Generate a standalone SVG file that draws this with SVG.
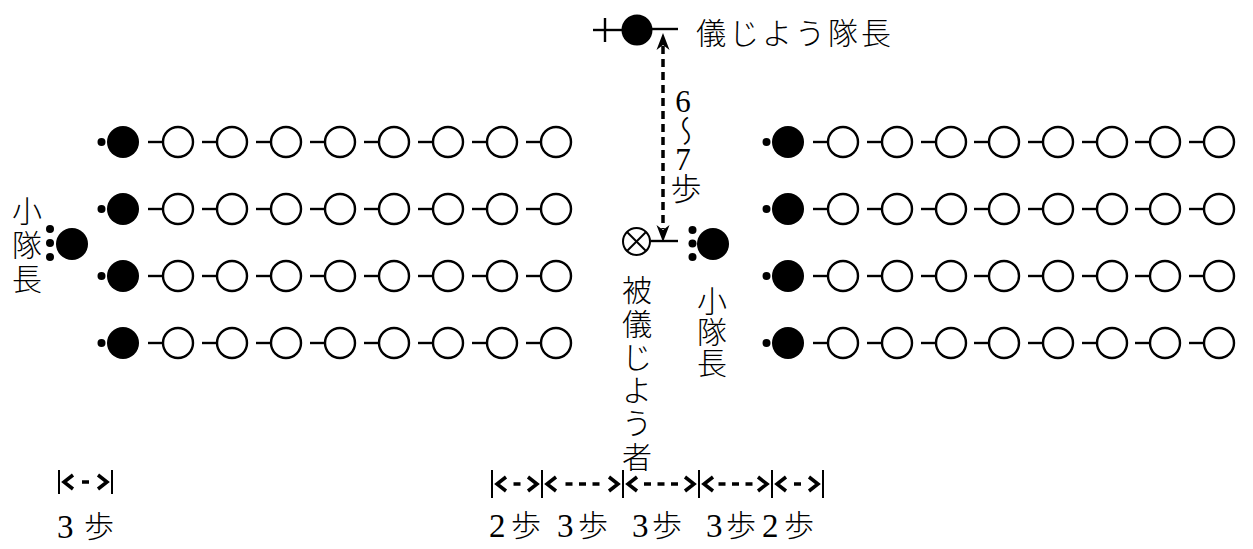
<svg xmlns="http://www.w3.org/2000/svg" width="1253" height="549" viewBox="0 0 1253 549">
<style>
.bg{fill:#fff}
.f{fill:#000}
.o{fill:#fff;stroke:#000;stroke-width:2.4}
.ln{stroke:#000;stroke-width:2.4;fill:none}
.tk{stroke:#000;stroke-width:2;fill:none}
.dim{stroke:#000;stroke-width:3.5;fill:none}
.chev{stroke:#000;stroke-width:3.5;fill:none;stroke-linejoin:miter}
.jp{font-family:"Noto Sans CJK JP","Noto Sans CJK SC",sans-serif;font-size:30px;font-weight:300;fill:#000}
.num{font-family:"Liberation Serif","DejaVu Serif",serif;font-size:33px;fill:#000}
.vt{font-family:"Liberation Serif","Noto Sans CJK JP",serif;font-size:31px;font-weight:300;fill:#000;writing-mode:vertical-rl;text-orientation:upright;letter-spacing:-4px}
</style>
<defs>
<g id="open"><circle class="o" cx="0" cy="0" r="15"/><line class="ln" x1="-30" y1="0" x2="-15" y2="0"/></g>
<g id="lead"><circle class="f" cx="-21.5" cy="0" r="4"/><circle class="f" cx="0" cy="0" r="16"/></g>
<g id="rowL">
<use href="#lead" x="123"/>
<use href="#open" x="178"/><use href="#open" x="232"/><use href="#open" x="286"/><use href="#open" x="340"/>
<use href="#open" x="394"/><use href="#open" x="448"/><use href="#open" x="502"/><use href="#open" x="556"/>
</g>
<g id="rowR">
<use href="#lead" x="788"/>
<use href="#open" x="843"/><use href="#open" x="897"/><use href="#open" x="951"/><use href="#open" x="1004"/>
<use href="#open" x="1058"/><use href="#open" x="1112"/><use href="#open" x="1165"/><use href="#open" x="1219"/>
</g>
</defs>
<rect class="bg" x="0" y="0" width="1253" height="549"/>

<g id="left-block">
<use href="#rowL" y="142"/>
<use href="#rowL" y="209"/>
<use href="#rowL" y="276"/>
<use href="#rowL" y="343"/>
</g>
<g id="right-block">
<use href="#rowR" y="142"/>
<use href="#rowR" y="209"/>
<use href="#rowR" y="276"/>
<use href="#rowR" y="343"/>
</g>

<g id="left-leader">
<circle class="f" cx="50" cy="229" r="4"/>
<circle class="f" cx="50" cy="243" r="4"/>
<circle class="f" cx="50" cy="257" r="4"/>
<circle class="f" cx="72" cy="244" r="16"/>
<text class="jp" text-anchor="middle" x="27 27 27" y="222 256 290">小隊長</text>
</g>

<g id="commander">
<line class="ln" x1="593" y1="30" x2="622" y2="30"/>
<line class="ln" x1="605" y1="18" x2="605" y2="42"/>
<circle class="f" cx="637" cy="30" r="15.5"/>
<text class="jp" x="696" y="44" letter-spacing="3">儀じよう隊長</text>
</g>

<g id="reviewer">
<circle class="o" cx="636.5" cy="241.5" r="13.5" style="stroke-width:2"/>
<line class="tk" x1="627" y1="232" x2="646" y2="251"/>
<line class="tk" x1="646" y1="232" x2="627" y2="251"/>
<text class="jp" text-anchor="middle" x="637 637 637 637 637 637" y="301 335 368 401 434 468">被儀じよう者</text>
</g>

<g id="center-leader">
<circle class="f" cx="692.5" cy="230" r="4"/>
<circle class="f" cx="692.5" cy="243.5" r="4"/>
<circle class="f" cx="692.5" cy="257" r="4"/>
<circle class="f" cx="713" cy="244" r="16"/>
<text class="jp" text-anchor="middle" x="712 712 712" y="312 343 374">小隊長</text>
</g>

<g id="connectors">
<line class="ln" x1="652" y1="29" x2="678" y2="29"/>
<line class="ln" x1="651" y1="241" x2="678" y2="241"/>
<line x1="663" y1="46" x2="663" y2="229" stroke="#000" stroke-width="3.5" stroke-dasharray="8 5"/>
<path class="f" d="M663,33 L669.5,50 L663,45 L656.5,50 Z"/>
<path class="f" d="M663,242 L669.5,225 L663,230 L656.5,225 Z"/>
<text class="vt" x="683" y="84">6～7歩</text>
</g>

<g id="dimension-left">
<line class="tk" x1="59" y1="470" x2="59" y2="494"/>
<line class="tk" x1="112" y1="470" x2="112" y2="494"/>
<polyline class="chev" points="73,475 64,482 73,489"/>
<polyline class="chev" points="98,475 107,482 98,489"/>
<line class="dim" x1="82" y1="482" x2="89" y2="482"/>
<text class="num" x="57" y="538">3</text>
<text class="jp" x="84" y="537">歩</text>
</g>

<g id="dimension-bottom">
<line class="tk" x1="492" y1="470" x2="492" y2="498"/>
<line class="tk" x1="542" y1="470" x2="542" y2="498"/>
<line class="tk" x1="623" y1="470" x2="623" y2="498"/>
<line class="tk" x1="699" y1="470" x2="699" y2="498"/>
<line class="tk" x1="772" y1="470" x2="772" y2="498"/>
<line class="tk" x1="823" y1="470" x2="823" y2="498"/>
<polyline class="chev" points="506,477 497,484 506,491"/>
<polyline class="chev" points="528,477 537,484 528,491"/>
<line class="dim" x1="513.5" y1="484" x2="520.5" y2="484"/>
<polyline class="chev" points="556,477 547,484 556,491"/>
<polyline class="chev" points="609,477 618,484 609,491"/>
<path class="dim" d="M565.5,484H572.5M579,484H586M592.5,484H599.5"/>
<polyline class="chev" points="637,477 628,484 637,491"/>
<polyline class="chev" points="685,477 694,484 685,491"/>
<path class="dim" d="M644,484H651M657.5,484H664.5M671,484H678"/>
<polyline class="chev" points="713,477 704,484 713,491"/>
<polyline class="chev" points="758,477 767,484 758,491"/>
<path class="dim" d="M718.5,484H725.5M732,484H739M745.5,484H752.5"/>
<polyline class="chev" points="786,477 777,484 786,491"/>
<polyline class="chev" points="809,477 818,484 809,491"/>
<line class="dim" x1="794" y1="484" x2="801" y2="484"/>
<text class="num" x="489" y="537">2</text><text class="jp" x="511" y="536">歩</text>
<text class="num" x="557" y="537">3</text><text class="jp" x="578" y="536">歩</text>
<text class="num" x="632" y="537">3</text><text class="jp" x="652" y="536">歩</text>
<text class="num" x="706" y="537">3</text><text class="jp" x="726" y="536">歩</text>
<text class="num" x="762" y="537">2</text><text class="jp" x="784" y="536">歩</text>
</g>
</svg>
